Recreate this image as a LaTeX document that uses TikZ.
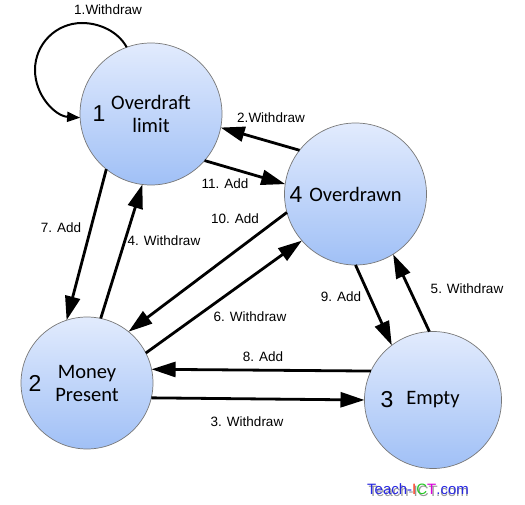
\documentclass[tikz,border=0pt]{standalone}
\usepackage{fontspec}
\setmainfont{Liberation Sans}
\newfontfamily\calib{Carlito}
\usetikzlibrary{arrows.meta}
\definecolor{ctop}{RGB}{226,235,253}
\definecolor{cbot}{RGB}{160,192,246}
\definecolor{cedge}{RGB}{120,120,120}
\definecolor{lblue}{RGB}{40,40,225}
\definecolor{lred}{RGB}{250,50,20}
\definecolor{lgreen}{RGB}{40,200,40}
\definecolor{lmag}{RGB}{220,0,220}
\begin{document}
\begin{tikzpicture}[x=1pt,y=-1pt,
  state/.style={circle, draw=cedge, line width=0.7pt, top color=ctop, bottom color=cbot,
    inner sep=0pt, outer sep=0pt, font=\calib\fontsize{20.5}{23}\selectfont, align=center},
  num/.style={font=\fontsize{23}{26}\selectfont, inner sep=0pt},
  tr/.style={line width=2.8pt, -{Triangle[length=24pt,width=15pt]}},
  loopar/.style={line width=2pt, -{Triangle[length=13pt,width=10pt]}},
  lbl/.style={font=\fontsize{13.5}{16}\selectfont, inner sep=0pt}
]
\useasboundingbox (0,0) rectangle (525,505);

% states
\node[state, minimum size=142pt] (c1) at (151,114) {Overdraft\\limit};
\node[state, minimum size=132pt] (c2) at (87,383) {Money\\Present};
\node[state, minimum size=137pt] (c3) at (433,400) {Empty};
\node[state, minimum size=142pt] (c4) at (355.5,194) {Overdrawn};

\node[num] (n1) at (99,114) {1};
\node[num] (n2) at (35,383) {2};
\node[num] (n3) at (387,400) {3};
\node[num] (n4) at (296,195) {4};

% self loop
\draw[loopar] (c1.110.5) .. controls (118,31.4) and (99.5,23) .. (82,23)
  .. controls (56,23) and (35,44) .. (35,70)
  .. controls (35,95.3) and (55,116) .. (c1.183);
\node[lbl] (l1) at (108,10) {1.Withdraw};

% transitions
\draw[tr] (c4.142.9) -- (c1.-11.2);
\node[lbl] (l2) at (271,118) {2.Withdraw};

\draw[tr] (c1.-41.7) -- (c4.172);
\node[lbl] (l11) at (225,184) {11. Add};

\draw[tr] (c1.-129) -- (c2.108.4);
\node[lbl] (l7) at (61,228) {7. Add};

\draw[tr] (c2.78.4) -- (c1.-97);
\node[lbl] (l4) at (164,241) {4. Withdraw};

\draw[tr] (c4.195.5) -- (c2.51);
\node[lbl] (l10) at (235,219) {10. Add};

\draw[tr] (c2.27) -- (c4.221.4);
\node[lbl] (l6) at (250,317) {6. Withdraw};

\draw[tr] (c3.155.2) -- (c2.12.5);
\node[lbl] (l8) at (263,357) {8. Add};

\draw[tr] (c2.-13.6) -- (c3.180);
\node[lbl] (l3) at (247,422) {3. Withdraw};

\draw[tr] (c4.270) -- (c3.127.7);
\node[lbl] (l9) at (341,297) {9. Add};

\draw[tr] (c3.93.2) -- (c4.302);
\node[lbl] (l5) at (467,289) {5. Withdraw};

% logo (with grey drop shadow inside the same node)
\node[font=\fontsize{15}{18}\selectfont, inner sep=0pt] (logo) at (418,490)
  {\makebox[0pt][l]{\hspace{1.5pt}\raisebox{-1.5pt}{\textcolor{black!40}{Teach-ICT.com}}}%
   \textcolor{lblue}{Teach-}\textcolor{lred}{I}\textcolor{lgreen}{C}\textcolor{lmag}{T}\textcolor{lblue}{.com}};
\end{tikzpicture}
\end{document}
